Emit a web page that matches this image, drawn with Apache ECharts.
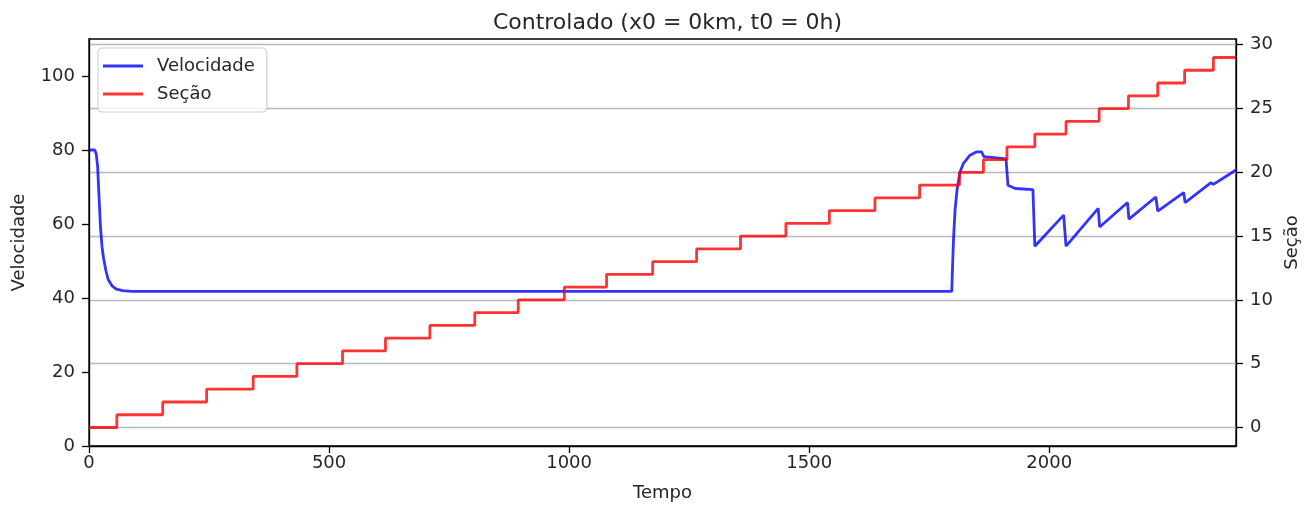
<!DOCTYPE html>
<html><head><meta charset="utf-8">
<script src="https://cdn.jsdelivr.net/npm/echarts@6/dist/echarts.min.js"></script>
<style>html,body{margin:0;padding:0;background:#fff}#c{width:1313px;height:509px}</style>
</head><body><div id="c"></div><script>
// Velocidade (left axis)
const velTime  = [0, 12, 15, 18, 21, 24, 27, 30, 35, 40, 48, 57, 70, 90,
  1797, 1799, 1801, 1804, 1808, 1814, 1821, 1835, 1849, 1859, 1864, 1880, 1910, 1914, 1929, 1966,
  1970, 2030, 2035, 2102, 2105, 2163, 2166, 2222, 2226, 2280, 2283, 2337, 2342, 2389];
const velValue = [80, 80, 79, 75.5, 67, 59, 54, 51, 47.5, 45, 43.3, 42.4, 42, 41.8,
  41.8, 50, 57, 64, 69.3, 74, 76.3, 78.6, 79.5, 79.5, 78.2, 78, 77.6, 70.5, 69.6, 69.3,
  54.0, 62.4, 54.0, 64.2, 59.2, 65.8, 61.3, 67.3, 63.5, 68.5, 65.8, 71.2, 70.7, 74.6];
// Seção (right axis): time at which each section starts
const secStartTime = [0, 58, 153.5, 245, 342, 433, 528, 617.5, 710, 803.5, 894, 990, 1078, 1174, 1265.6,
  1357, 1451.5, 1542, 1637, 1730, 1813, 1863, 1912, 1970, 2035, 2104, 2165, 2226, 2282, 2342];
const secValue = [0,1,2,3,4,5,6,7,8,9,10,11,12,13,14,15,16,17,18,19,20,21,22,23,24,25,26,27,28,29];
const tEnd = 2389;
const xTicks = [0, 500, 1000, 1500, 2000];
const velTicks = [0, 20, 40, 60, 80, 100];
const secTicks = [0, 5, 10, 15, 20, 25, 30];

const velData = velTime.map((t, i) => [t, velValue[i]]);
const secData = secStartTime.map((t, i) => [t, secValue[i]]);
secData.push([tEnd, secValue[secValue.length - 1]]);

const FONT = 'DejaVu Sans';
const TXT = '#262626';
const plain = v => String(v);
const chart = echarts.init(document.getElementById('c'), null, {renderer: 'canvas'});
const tickStyle = {show: true, length: 7, inside: false, lineStyle: {color: '#000', width: 1.3}};
chart.setOption({
  animation: false,
  backgroundColor: '#fff',
  title: {
    text: 'Controlado (x0 = 0km, t0 = 0h)',
    left: 662.5, top: 7, textAlign: 'center',
    textStyle: {fontFamily: FONT, fontSize: 22, fontWeight: 'normal', color: TXT}
  },
  grid: {left: 89, right: 77, top: 39, bottom: 63, show: true, borderColor: '#000', borderWidth: 1.3, containLabel: false},
  legend: {
    orient: 'vertical', left: 98, top: 48,
    padding: [9, 12, 9, 5], itemGap: 10,
    itemWidth: 40, itemHeight: 3, icon: 'rect',
    borderColor: '#cccccc', borderWidth: 1, borderRadius: 4,
    backgroundColor: 'rgba(255,255,255,0.8)',
    textStyle: {fontFamily: FONT, fontSize: 18, color: TXT, padding: [0, 0, 0, 9]},
    data: ['Velocidade', 'Seção']
  },
  xAxis: {
    type: 'value', min: 0, max: tEnd,
    name: 'Tempo', nameLocation: 'middle', nameGap: 38,
    nameTextStyle: {fontFamily: FONT, fontSize: 18, color: TXT},
    axisLine: {show: true, onZero: false, lineStyle: {color: '#000', width: 1.3}},
    axisTick: Object.assign({customValues: xTicks}, tickStyle),
    axisLabel: {customValues: xTicks, formatter: plain, margin: 8, fontFamily: FONT, fontSize: 18, color: TXT},
    splitLine: {show: false}
  },
  yAxis: [{
    type: 'value', min: 0, max: 110, position: 'left',
    name: 'Velocidade', nameLocation: 'middle', nameGap: 61,
    nameTextStyle: {fontFamily: FONT, fontSize: 18, color: TXT},
    axisLine: {show: true, onZero: false, lineStyle: {color: '#000', width: 1.3}},
    axisTick: Object.assign({customValues: velTicks}, tickStyle),
    axisLabel: {customValues: velTicks, formatter: plain, margin: 14, fontFamily: FONT, fontSize: 18, color: TXT},
    splitLine: {show: false}
  }, {
    type: 'value', min: -1.45, max: 30.45, position: 'right',
    name: 'Seção', nameLocation: 'middle', nameGap: 41,
    nameTextStyle: {fontFamily: FONT, fontSize: 18, color: TXT},
    axisLine: {show: true, onZero: false, lineStyle: {color: '#000', width: 1.3}},
    axisTick: Object.assign({customValues: secTicks}, tickStyle),
    axisLabel: {customValues: secTicks, formatter: plain, margin: 14, fontFamily: FONT, fontSize: 18, color: TXT},
    splitLine: {show: true, lineStyle: {color: '#b8b8b8', width: 1.4}}
  }],
  series: [{
    name: 'Velocidade', type: 'line', yAxisIndex: 0, data: velData,
    showSymbol: false, smooth: false,
    itemStyle: {color: 'rgba(0,0,255,0.8)'},
    lineStyle: {color: 'rgba(0,0,255,0.8)', width: 2.8}
  }, {
    name: 'Seção', type: 'line', yAxisIndex: 1, data: secData, step: 'end',
    showSymbol: false,
    itemStyle: {color: 'rgba(255,0,0,0.8)'},
    lineStyle: {color: 'rgba(255,0,0,0.8)', width: 2.8}
  }]
});
</script></body></html>
